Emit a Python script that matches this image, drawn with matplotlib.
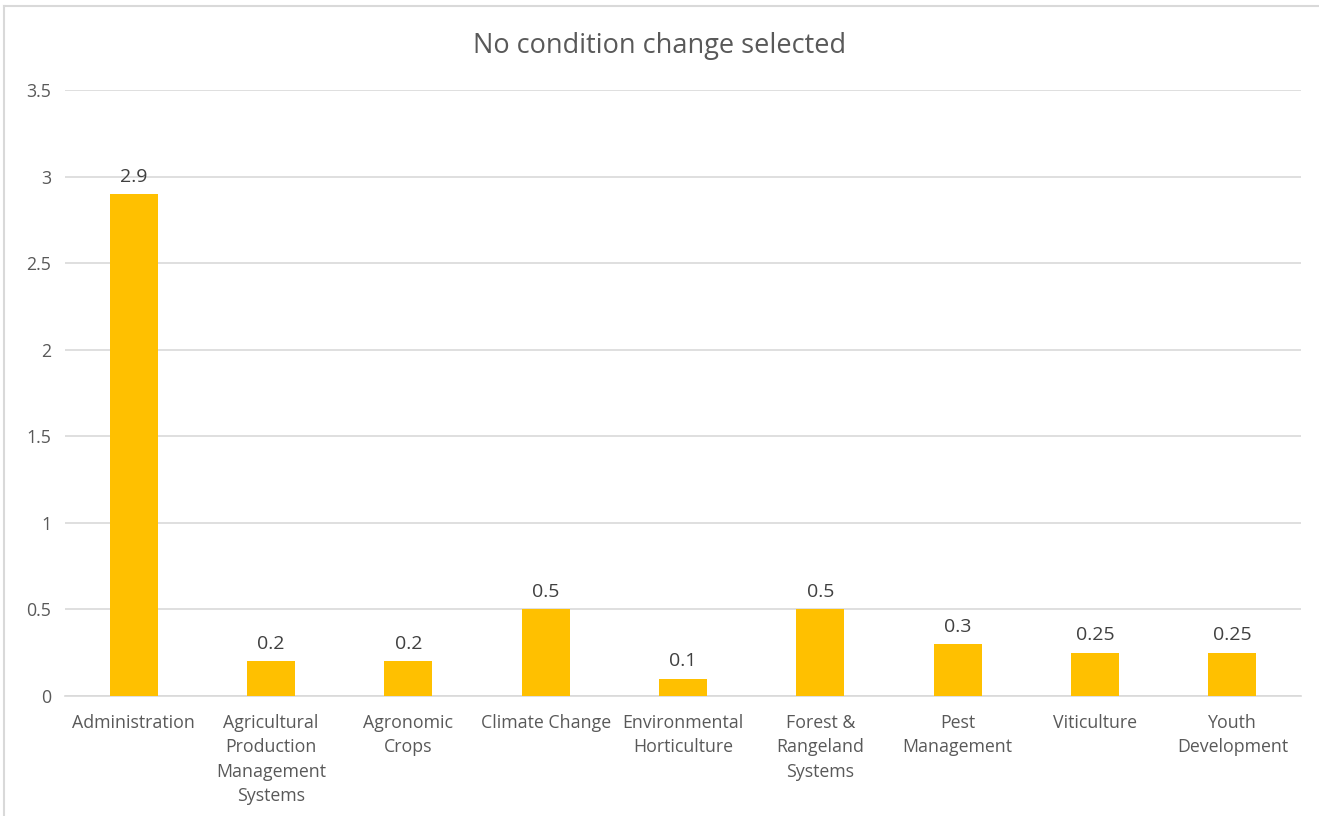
import matplotlib.pyplot as plt
import numpy as np

plt.rcParams['font.family'] = ['Open Sans', 'DejaVu Sans']

categories = ['Administration', 'Agricultural\nProduction\nManagement\nSystems',
              'Agronomic\nCrops', 'Climate Change', 'Environmental\nHorticulture',
              'Forest &\nRangeland\nSystems', 'Pest\nManagement', 'Viticulture',
              'Youth\nDevelopment']
values = [2.9, 0.2, 0.2, 0.5, 0.1, 0.5, 0.3, 0.25, 0.25]
value_labels = ['2.9', '0.2', '0.2', '0.5', '0.1', '0.5', '0.3', '0.25', '0.25']
y_ticks = [0, 0.5, 1, 1.5, 2, 2.5, 3, 3.5]
y_tick_labels = ['0', '0.5', '1', '1.5', '2', '2.5', '3', '3.5']

fig = plt.figure(figsize=(13.19, 8.16), dpi=100)
ax = fig.add_axes([0.0493, 0.1471, 0.9371, 0.7426])

x = np.arange(len(categories))
bars = ax.bar(x, values, width=0.35, color='#FFC000', zorder=3)

for xi, v, lab in zip(x, values, value_labels):
    ax.annotate(lab, (xi, v), xytext=(0, 6), textcoords='offset points',
                ha='center', va='bottom', fontsize=14, color='#404040')

ax.set_xlim(-0.5, len(categories) - 0.5)
ax.set_ylim(0, 3.5)
ax.set_yticks(y_ticks)
ax.set_yticklabels(y_tick_labels)
ax.set_xticks(x)
ax.set_xticklabels(categories, linespacing=1.45)
ax.tick_params(axis='both', length=0, labelsize=12.8, colors='#595959')
ax.tick_params(axis='y', pad=10)
ax.tick_params(axis='x', pad=13)
ax.grid(axis='y', color='#D9D9D9', linewidth=1.2, zorder=0)
for s in ['top', 'right', 'left']:
    ax.spines[s].set_visible(False)
ax.spines['bottom'].set_color('#D9D9D9')
ax.spines['bottom'].set_linewidth(1.2)

fig.text(0.5, 1 - 46 / 816, 'No condition change selected', ha='center', va='center',
         fontsize=19.5, color='#595959')

# outer chart frame
fig.add_artist(plt.Line2D([4 / 1319, 4 / 1319], [0, 1 - 6 / 816], color='#D9D9D9', linewidth=1.5))
fig.add_artist(plt.Line2D([4 / 1319, 1], [1 - 6 / 816, 1 - 6 / 816], color='#D9D9D9', linewidth=1.5))

fig.savefig('out.png', dpi=100)
